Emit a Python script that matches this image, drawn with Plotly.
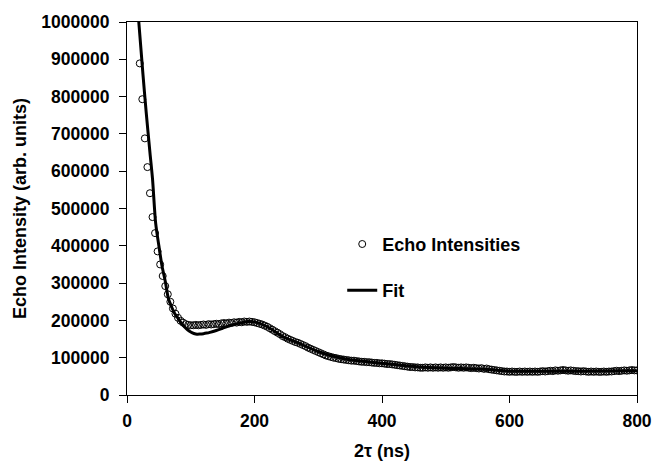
import plotly.graph_objects as go

# ---- data ----
echo_start_ns = 20
echo_step_ns = 4
echo_intensity = [
    889000, 793000, 688000, 611000, 541000, 477000, 434000, 385000, 350000, 319000,
    292000, 270000, 250000, 232000, 218000, 207000, 199000, 194000, 190000, 188000,
    187000, 187000, 188000, 187000, 188000, 189000, 188000, 190000, 189000, 190000,
    191000, 190000, 192000, 193000, 192000, 194000, 193000, 195000, 194000, 196000,
    195000, 197000, 196000, 197000, 196000, 195000, 193000, 191000, 189000, 186000,
    183000, 179000, 175000, 171000, 167000, 163000, 158000, 155000, 151000, 148000,
    145000, 142000, 140000, 137000, 134000, 131000, 127000, 124000, 121000, 118000,
    115000, 112000, 109000, 106000, 104000, 102000, 100000, 99000, 97000, 96000,
    95000, 94000, 93000, 92000, 92000, 91000, 90000, 89000, 89000, 88000,
    88000, 87000, 86000, 86000, 85000, 85000, 84000, 83000, 83000, 82000,
    81000, 80000, 79000, 78000, 77000, 76000, 75000, 75000, 74000, 74000,
    73000, 73000, 74000, 73000, 74000, 73000, 74000, 73000, 74000, 73000,
    74000, 73000, 74000, 75000, 74000, 73000, 74000, 73000, 74000, 73000,
    72000, 73000, 72000, 71000, 72000, 70000, 71000, 69000, 68000, 67000,
    66000, 65000, 64000, 63000, 63000, 62000, 63000, 62000, 62000, 63000,
    62000, 63000, 62000, 63000, 62000, 63000, 62000, 63000, 64000, 63000,
    64000, 65000, 64000, 66000, 65000, 66000, 67000, 66000, 65000, 66000,
    65000, 64000, 64000, 63000, 64000, 63000, 62000, 63000, 62000, 63000,
    62000, 62000, 63000, 62000, 63000, 63000, 64000, 65000, 64000, 65000,
    66000, 65000, 66000, 67000, 66000, 66000,
]
echo_time_ns = [echo_start_ns + echo_step_ns * i for i in range(len(echo_intensity))]

fit_time_ns = [18.5, 25, 30, 36, 40, 45, 50, 55, 60, 65, 70, 75, 80, 85, 90, 95, 100,
               105, 110, 115, 120, 125, 130, 140, 150, 160, 170, 180, 190, 200, 220,
               245, 271, 300, 340, 400, 460, 500, 560, 600, 700, 800]
fit_intensity = [1000000, 860000, 760000, 650000, 580000, 460000, 400000, 345000, 305000,
                 258000, 236000, 218000, 206000, 193000, 183000, 175000, 169000, 165000,
                 163000, 163500, 164500, 166000, 168000, 173000, 179000, 185000, 190000,
                 194000, 197000, 196000, 183000, 156000, 138000, 116000, 97000, 85000,
                 75000, 72000, 69000, 64000, 64000, 65000]

x_tick_vals = [0, 200, 400, 600, 800]
x_tick_text = ["0", "200", "400", "600", "800"]
y_tick_vals = [0, 100000, 200000, 300000, 400000, 500000, 600000, 700000, 800000, 900000, 1000000]
y_tick_text = ["0", "100000", "200000", "300000", "400000", "500000", "600000",
               "700000", "800000", "900000", "1000000"]

FONT = "Liberation Sans, Arial, Helvetica, sans-serif"

fig = go.Figure()
fig.add_trace(go.Scatter(
    x=echo_time_ns, y=echo_intensity, mode="markers", name="<b>Echo Intensities</b>",
    marker=dict(symbol="circle-open", size=7, color="black", line=dict(width=1, color="black")),
    legend="legend",
))
fig.add_trace(go.Scatter(
    x=fit_time_ns, y=fit_intensity, mode="lines", name="<b>Fit</b>",
    line=dict(color="black", width=3, shape="spline", smoothing=0.8),
    legend="legend2",
))

axis_common = dict(
    showline=True, linecolor="black", linewidth=1, mirror=True,
    ticks="outside", ticklen=7, tickcolor="black", tickwidth=1,
    showgrid=False, zeroline=False, automargin=False,
    tickfont=dict(family=FONT, size=17.5, color="black", weight="bold"),
)

fig.update_layout(
    width=660, height=463,
    margin=dict(l=127, r=23, t=22, b=68),
    paper_bgcolor="white", plot_bgcolor="white",
    font=dict(family=FONT, color="black"),
    xaxis=dict(range=[0, 800], tickvals=x_tick_vals, ticktext=x_tick_text,
               ticklabelstandoff=3,
               title=dict(text="<b>2τ (ns)</b>", font=dict(family=FONT, size=18, color="black"),
                          standoff=14),
               **axis_common),
    yaxis=dict(range=[0, 1000000], tickvals=y_tick_vals, ticktext=y_tick_text,
               ticklabelstandoff=6,
               title=dict(text="<b>Echo Intensity (arb. units)</b>",
                          font=dict(family=FONT, size=18, color="black"), standoff=10),
               **axis_common),
    showlegend=True,
    legend=dict(x=0.422, y=0.404, xanchor="left", yanchor="middle",
                bgcolor="rgba(0,0,0,0)", font=dict(family=FONT, size=18, color="black")),
    legend2=dict(x=0.422, y=0.28, xanchor="left", yanchor="middle",
                 bgcolor="rgba(0,0,0,0)", font=dict(family=FONT, size=18, color="black")),
)

fig.write_html("out.html", config={"displayModeBar": False},
               post_script="document.body.style.margin='0';")
